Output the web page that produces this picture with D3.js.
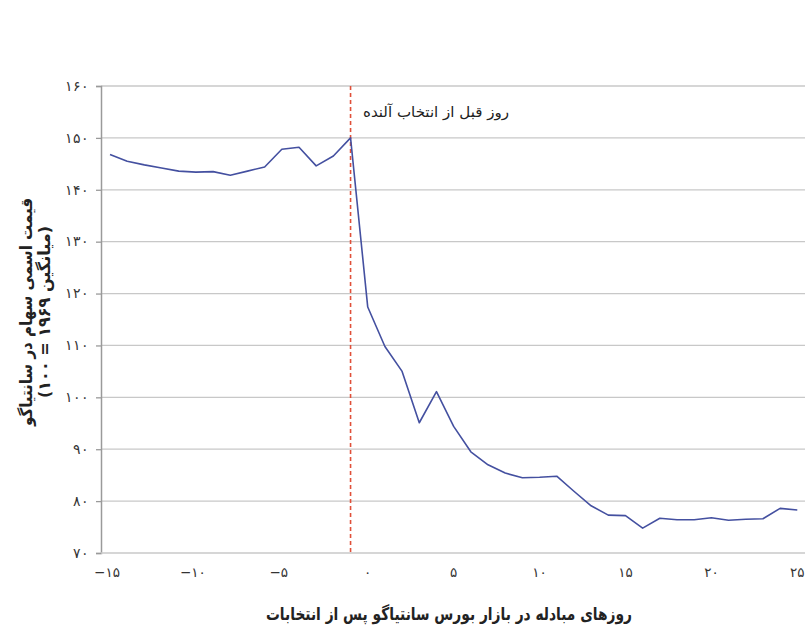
<!DOCTYPE html>
<html>
<head>
<meta charset="utf-8">
<script src="https://cdn.jsdelivr.net/npm/d3@7"></script>
<style>
    body { margin: 0; background: #fff; }
    svg { display: block; font-family: "DejaVu Sans", sans-serif; }
</style>
</head>
<body>
<div id="chart"></div>
<script>
// days of trading, from 15 days before to 25 days after the election
const days = d3.range(-15, 26);
const prices = [
    146.8, 145.5, 144.8, 144.2, 143.6, 143.4, 143.5, 142.8, 143.6, 144.4,
    147.8, 148.2, 144.6, 146.5, 150.0,
    117.4, 109.8, 105.0, 95.1, 101.1, 94.4, 89.5, 87.0, 85.4, 84.5,
    84.6, 84.8, 81.9, 79.1, 77.3, 77.2, 74.8, 76.7, 76.4, 76.4,
    76.8, 76.3, 76.5, 76.6, 78.6, 78.3
];
const xTicks = [-15, -10, -5, 0, 5, 10, 15, 20, 25];
const yTicks = [70, 80, 90, 100, 110, 120, 130, 140, 150, 160];
const markerDay = -1;
const markerLabel = 'روز قبل از انتخاب آلنده';
const xTitle = 'روزهای مبادله در بازار بورس سانتیاگو پس از انتخابات';
const yTitle = ['قیمت اسمی سهام در سانتیاگو', '(میانگین ۱۹۶۹ = ۱۰۰)'];

const width = 810, height = 635;
const plotLeft = 101, plotRight = 805, plotTop = 86, plotBottom = 553;

const fa = n => {
    const s = String(Math.abs(n)).replace(/\d/g, c => '۰۱۲۳۴۵۶۷۸۹'[c]);
    return n < 0 ? '−' + s : s;
};

const x = d3.scaleLinear().domain([-15, 25]).range([110, 797.3]);
const y = d3.scaleLinear().domain([70, 160]).range([plotBottom, plotTop]);

const svg = d3.select('#chart').append('svg')
    .attr('width', width)
    .attr('height', height);

// horizontal grid
svg.append('g')
    .selectAll('line')
    .data(yTicks.filter(d => d > 70))
    .join('line')
    .attr('x1', plotLeft)
    .attr('x2', plotRight)
    .attr('y1', d => y(d))
    .attr('y2', d => y(d))
    .attr('stroke', '#c8c8c8')
    .attr('stroke-width', 1.3);

// y axis
const yAxis = svg.append('g')
    .attr('transform', `translate(${plotLeft},0)`)
    .call(d3.axisLeft(y).tickValues(yTicks).tickSize(5).tickPadding(7).tickFormat(fa));
yAxis.select('.domain').attr('stroke', '#9a9a9a').attr('stroke-width', 1.5);
yAxis.selectAll('.tick line').attr('stroke', '#9a9a9a').attr('stroke-width', 1.3);
yAxis.selectAll('.tick text').attr('font-size', 13.5).attr('fill', '#333');

// x axis line
svg.append('line')
    .attr('x1', plotLeft)
    .attr('x2', plotRight)
    .attr('y1', plotBottom)
    .attr('y2', plotBottom)
    .attr('stroke', '#c8c8c8')
    .attr('stroke-width', 1.5);

svg.append('g')
    .selectAll('text')
    .data(xTicks)
    .join('text')
    .attr('x', d => x(d) - (d < 0 ? 3 : 0))
    .attr('y', plotBottom + 24)
    .attr('text-anchor', 'middle')
    .attr('font-size', 13.5)
    .attr('fill', '#333')
    .text(d => fa(d));

// election marker
svg.append('line')
    .attr('x1', x(markerDay))
    .attr('x2', x(markerDay))
    .attr('y1', plotTop)
    .attr('y2', plotBottom)
    .attr('stroke', '#e0503a')
    .attr('stroke-width', 1.6)
    .attr('stroke-dasharray', '4,3');

svg.append('text')
    .attr('x', 509)
    .attr('y', 117)
    .attr('text-anchor', 'end')
    .attr('font-size', 14.5)
    .attr('fill', '#222')
    .attr('textLength', 146)
    .attr('lengthAdjust', 'spacingAndGlyphs')
    .text(markerLabel);

// price line
const line = d3.line()
    .x((d, i) => x(days[i]))
    .y(d => y(d));

svg.append('path')
    .datum(prices)
    .attr('fill', 'none')
    .attr('stroke', '#4450a0')
    .attr('stroke-width', 1.6)
    .attr('stroke-linejoin', 'round')
    .attr('d', line);

// titles
svg.append('text')
    .attr('x', 449)
    .attr('y', 620)
    .attr('text-anchor', 'middle')
    .attr('font-size', 17.5)
    .attr('font-weight', 'bold')
    .attr('fill', '#222')
    .attr('textLength', 366)
    .attr('lengthAdjust', 'spacingAndGlyphs')
    .text(xTitle);

svg.append('g')
    .attr('transform', 'translate(36,312) rotate(-90)')
    .selectAll('text')
    .data(yTitle)
    .join('text')
    .attr('x', 0)
    .attr('y', (d, i) => i * 18 - 4)
    .attr('text-anchor', 'middle')
    .attr('font-size', 16.5)
    .attr('font-weight', 'bold')
    .attr('fill', '#222')
    .attr('textLength', (d, i) => i ? 172 : 228)
    .attr('lengthAdjust', 'spacingAndGlyphs')
    .text(d => d);
</script>
</body>
</html>
